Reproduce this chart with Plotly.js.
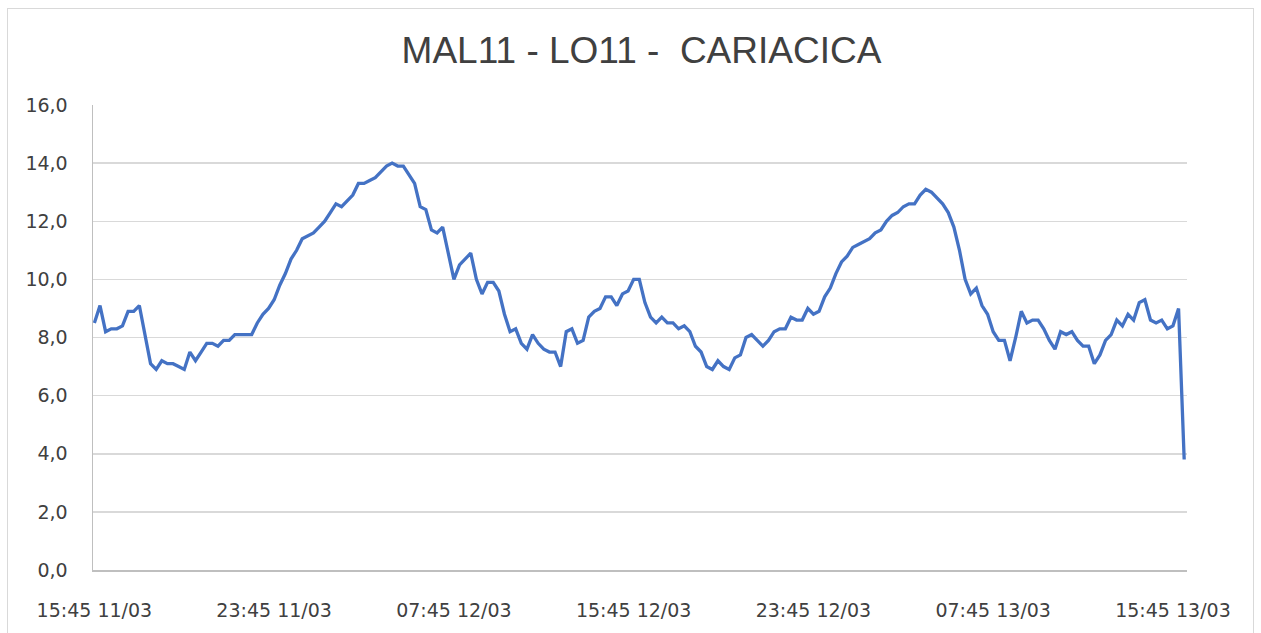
<!DOCTYPE html>
<html>
<head>
<meta charset="utf-8">
<script src="https://cdn.plot.ly/plotly-3.0.1.min.js"></script>
<style>
  html, body { margin: 0; padding: 0; background: #ffffff; }
  #wrap { position: relative; width: 1261px; height: 633px; overflow: hidden; }
  #chart { position: absolute; left: 0; top: 0; width: 1261px; height: 633px; }
  #frame { position: absolute; left: 7px; top: 8px; width: 1247px; height: 640px;
           border: 1px solid #d9d9d9; box-sizing: border-box; pointer-events: none; }
</style>
</head>
<body>
<div id="wrap">
  <div id="chart"></div>
  <div id="frame"></div>
</div>
<script>
// ---- data (15-minute readings starting 15:45 11/03) ----
const titleText = "MAL11 - LO11 -  CARIACICA";
const startTime = "2024-03-11T15:45:00";
const stepMinutes = 15;

const values = [
  8.5, 9.1, 8.2, 8.3, 8.3, 8.4, 8.9, 8.9, 9.1, 8.1,
  7.1, 6.9, 7.2, 7.1, 7.1, 7.0, 6.9, 7.5, 7.2, 7.5,
  7.8, 7.8, 7.7, 7.9, 7.9, 8.1, 8.1, 8.1, 8.1, 8.5,
  8.8, 9.0, 9.3, 9.8, 10.2, 10.7, 11.0, 11.4, 11.5, 11.6,
  11.8, 12.0, 12.3, 12.6, 12.5, 12.7, 12.9, 13.3, 13.3, 13.4,
  13.5, 13.7, 13.9, 14.0, 13.9, 13.9, 13.6, 13.3, 12.5, 12.4,
  11.7, 11.6, 11.8, 10.9, 10.0, 10.5, 10.7, 10.9, 10.0, 9.5,
  9.9, 9.9, 9.6, 8.8, 8.2, 8.3, 7.8, 7.6, 8.1, 7.8,
  7.6, 7.5, 7.5, 7.0, 8.2, 8.3, 7.8, 7.9, 8.7, 8.9,
  9.0, 9.4, 9.4, 9.1, 9.5, 9.6, 10.0, 10.0, 9.2, 8.7,
  8.5, 8.7, 8.5, 8.5, 8.3, 8.4, 8.2, 7.7, 7.5, 7.0,
  6.9, 7.2, 7.0, 6.9, 7.3, 7.4, 8.0, 8.1, 7.9, 7.7,
  7.9, 8.2, 8.3, 8.3, 8.7, 8.6, 8.6, 9.0, 8.8, 8.9,
  9.4, 9.7, 10.2, 10.6, 10.8, 11.1, 11.2, 11.3, 11.4, 11.6,
  11.7, 12.0, 12.2, 12.3, 12.5, 12.6, 12.6, 12.9, 13.1, 13.0,
  12.8, 12.6, 12.3, 11.8, 11.0, 10.0, 9.5, 9.7, 9.1, 8.8,
  8.2, 7.9, 7.9, 7.2, 8.0, 8.9, 8.5, 8.6, 8.6, 8.3,
  7.9, 7.6, 8.2, 8.1, 8.2, 7.9, 7.7, 7.7, 7.1, 7.4,
  7.9, 8.1, 8.6, 8.4, 8.8, 8.6, 9.2, 9.3, 8.6, 8.5,
  8.6, 8.3, 8.4, 9.0, 3.8
];

const tickIndices = [0, 32, 64, 96, 128, 160, 192];
const tickLabels = ["15:45 11/03", "23:45 11/03", "07:45 12/03", "15:45 12/03",
                    "23:45 12/03", "07:45 13/03", "15:45 13/03"];

const yTickVals = [0, 2, 4, 6, 8, 10, 12, 14, 16];

// ---- build timestamps for each reading ----
function pad(n) { return (n < 10 ? "0" : "") + n; }
function fmt(d) {
  return d.getFullYear() + "-" + pad(d.getMonth() + 1) + "-" + pad(d.getDate()) +
         " " + pad(d.getHours()) + ":" + pad(d.getMinutes()) + ":" + pad(d.getSeconds());
}
const t0 = new Date(startTime);
function timeAt(idx) { return new Date(t0.getTime() + idx * stepMinutes * 60000); }
const times = values.map((v, i) => fmt(timeAt(i)));
const tickVals = tickIndices.map(i => fmt(timeAt(i)));
const rangeStart = fmt(new Date(t0.getTime() - 3.7 * 60000));
const rangeEnd = fmt(new Date(timeAt(values.length - 1).getTime() + 7.5 * 60000));

const trace = {
  x: times,
  y: values,
  type: "scatter",
  mode: "lines",
  line: { color: "#4472C4", width: 3.3, shape: "linear" },
  hoverinfo: "skip"
};

const tickFont = { family: "DejaVu Sans", size: 19, color: "#404040" };

const layout = {
  width: 1261,
  height: 633,
  margin: { l: 93, r: 74, t: 105, b: 63, pad: 0 },
  paper_bgcolor: "#ffffff",
  plot_bgcolor: "#ffffff",
  separators: ", ",
  showlegend: false,
  font: tickFont,
  title: {
    text: titleText,
    font: { family: "Liberation Sans", size: 37, color: "#404040" },
    x: 641.5 / 1261,
    xanchor: "center",
    xref: "container",
    y: 1 - 50 / 633,
    yanchor: "middle",
    yref: "container"
  },
  xaxis: {
    type: "date",
    range: [rangeStart, rangeEnd],
    tickmode: "array",
    tickvals: tickVals,
    ticktext: tickLabels,
    showgrid: false,
    zeroline: false,
    showline: true,
    linecolor: "#bfbfbf",
    linewidth: 1.5,
    ticks: "",
    ticklabelstandoff: 23,
    tickfont: tickFont,
    fixedrange: true
  },
  yaxis: {
    range: [0, 16],
    tickmode: "array",
    tickvals: yTickVals,
    tickformat: ".1f",
    showgrid: true,
    gridcolor: "#d9d9d9",
    gridwidth: 1.5,
    zeroline: false,
    showline: true,
    linecolor: "#bfbfbf",
    linewidth: 1.5,
    ticks: "",
    ticklabelstandoff: 20,
    tickfont: tickFont,
    fixedrange: true
  }
};

Plotly.newPlot("chart", [trace], layout, { displayModeBar: false, staticPlot: true });
</script>
</body>
</html>
